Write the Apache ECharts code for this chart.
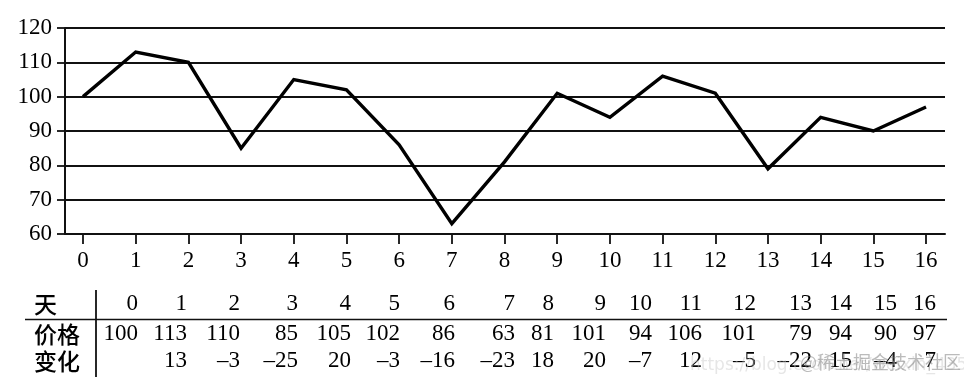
<!DOCTYPE html>
<html>
<head>
<meta charset="utf-8">
<script src="https://cdn.jsdelivr.net/npm/echarts@6/dist/echarts.min.js"></script>
<style>html,body{margin:0;padding:0;background:#fff;}#c{width:964px;height:385px;}</style>
</head>
<body>
<div id="c"></div>
<script>
var days = [0,1,2,3,4,5,6,7,8,9,10,11,12,13,14,15,16];
var prices = [100,113,110,85,105,102,86,63,81,101,94,106,101,79,94,90,97];
var changes = [null,13,-3,-25,20,-3,-16,-23,18,20,-7,12,-5,-22,15,-4,7];
var yTicks = [60,70,80,90,100,110,120];
var rowLabels = ['天','价格','变化'];

// table layout (column right edges, row centres)
var colRight = [138,187,240,298,351,400,455,515,554,606,652,702,756,812,852,897,936];
var rowY = [304,334,361];

var serif = '"Liberation Serif","DejaVu Serif",serif';
var cjk = '"Noto Sans CJK SC","Noto Sans CJK JP",sans-serif';

function fmt(v){ return v < 0 ? '\u2013' + Math.abs(v) : String(v); }

var graphics = [];
rowLabels.forEach(function(t, i){
  graphics.push({type:'text', x:34, y:rowY[i], style:{text:t, font:'500 23px ' + cjk, fill:'#000', textVerticalAlign:'middle', textAlign:'left'}});
});
var rows = [days, prices, changes];
rows.forEach(function(arr, r){
  arr.forEach(function(v, i){
    if (v === null) return;
    graphics.push({type:'text', x:colRight[i], y:rowY[r], style:{text:fmt(v), font:'23px ' + serif, fill:'#000', textAlign:'right', textVerticalAlign:'middle'}});
  });
});
graphics.push({type:'line', shape:{x1:25,y1:319.5,x2:947,y2:319.5}, style:{stroke:'#111', lineWidth:1.6}});
graphics.push({type:'line', shape:{x1:96,y1:290,x2:96,y2:377}, style:{stroke:'#111', lineWidth:1.8}});
// watermark
graphics.push({type:'text', x:690, y:366, z:100, style:{text:'https://blog.csdn.net/weixin_43597423', font:'17px "DejaVu Sans",sans-serif', fill:'rgba(200,200,200,0.45)', textVerticalAlign:'middle'}});
graphics.push({type:'text', x:800, y:362, z:101, style:{text:'@稀土掘金技术社区', font:'18px ' + cjk, fill:'rgba(120,120,120,0.5)', textVerticalAlign:'middle'}});

var chart = echarts.init(document.getElementById('c'), null, {renderer:'canvas'});
chart.setOption({
  animation:false,
  backgroundColor:'#fff',
  grid:{left:65, right:19, top:28, bottom:151, containLabel:false},
  xAxis:{
    type:'value', min:-0.342, max:16.36,
    axisLine:{show:true, onZero:false, lineStyle:{color:'#111', width:2}},
    axisTick:{show:true, inside:false, length:10, customValues:days, lineStyle:{color:'#111', width:1.8}},
    axisLabel:{show:true, margin:15, customValues:days, fontFamily:serif, fontSize:23, color:'#000'},
    splitLine:{show:false}
  },
  yAxis:{
    type:'value', min:60, max:120, interval:10,
    axisLine:{show:true, onZero:false, lineStyle:{color:'#111', width:2}},
    axisTick:{show:true, inside:false, length:8, lineStyle:{color:'#111', width:1.8}},
    axisLabel:{margin:13, fontFamily:serif, fontSize:23, color:'#000'},
    splitLine:{show:true, lineStyle:{color:'#111', width:1.8}}
  },
  series:[{
    type:'line',
    data:days.map(function(d,i){return [d, prices[i]];}),
    symbol:'none',
    lineStyle:{color:'#000', width:3.4, join:'miter'},
    z:5
  }],
  graphic:graphics
});
</script>
</body>
</html>
